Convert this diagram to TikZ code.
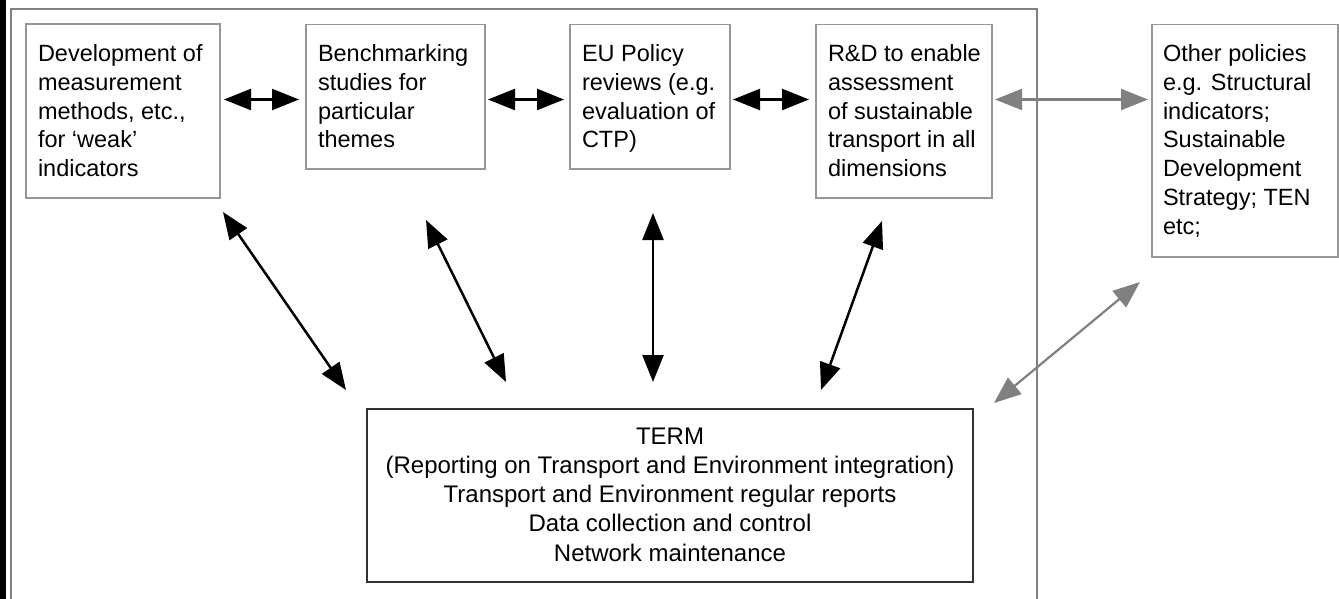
\documentclass[tikz,border=0pt]{standalone}
\usepackage{fontspec}
\setmainfont{Liberation Sans}
\usetikzlibrary{arrows.meta,calc}
\definecolor{boxgray}{RGB}{150,150,150}
\definecolor{framegray}{RGB}{128,128,128}
\definecolor{arrgray}{RGB}{128,128,128}
\definecolor{termgray}{RGB}{50,50,50}
\tikzset{
  box/.style={draw=boxgray, line width=1.3pt, rectangle, inner sep=0pt, outer sep=0pt, anchor=north west},
  termbox/.style={draw=termgray, line width=1.4pt, rectangle, inner sep=0pt, outer sep=0pt, anchor=north west},
  txt/.style={inner sep=0pt, outer sep=0pt, align=left, anchor=north west, font=\fontsize{23.5}{28.9}\selectfont},
  termtxt/.style={inner sep=0pt, outer sep=0pt, align=center, anchor=north, font=\fontsize{24}{29.3}\selectfont},
  blkarrow/.style={line width=2.5pt, black, {Triangle[length=27pt,width=21pt]}-{Triangle[length=27pt,width=21pt]}},
  grayarrow/.style={line width=2.2pt, arrgray, {Triangle[length=27pt,width=21pt]}-{Triangle[length=27pt,width=21pt]}}
}
\begin{document}
\begin{tikzpicture}[x=1pt,y=-1pt]
\useasboundingbox (0,0) rectangle (1339,599);
\fill[white] (0,0) rectangle (1339,599);
% thick left bar and outer frame
\fill[black] (0,0) rectangle (5.5,599);
\draw[framegray, line width=1.3pt] (11,9) rectangle (1037,620);
% boxes
\node[box, minimum width=194pt, minimum height=174pt] (b1) at (26,24) {};
\node[box, minimum width=179pt, minimum height=144.5pt] (b2) at (306,24.5) {};
\node[box, minimum width=160pt, minimum height=144.5pt] (b3) at (570,24.5) {};
\node[box, minimum width=176pt, minimum height=173.5pt] (b4) at (816,24.5) {};
\node[box, minimum width=186pt, minimum height=232.5pt] (b5) at (1152,24.5) {};
\node[termbox, minimum width=606pt, minimum height=173pt] (term) at (367,409) {};
% texts
\node[txt] (t1) at ($(b1.north west)+(12,17)$) {\strut Development of\\measurement\\methods, etc.,\\for ‘weak’\\indicators};
\node[txt] (t2) at ($(b2.north west)+(12,16.5)$) {\strut Benchmarking\\studies for\\particular\\themes};
\node[txt] (t3) at ($(b3.north west)+(12,16.5)$) {\strut EU Policy\\reviews (e.g.\\evaluation of\\CTP)};
\node[txt] (t4) at ($(b4.north west)+(12,16.5)$) {\strut R\&D to enable\\assessment\\of sustainable\\transport in all\\dimensions};
\node[txt] (t5) at ($(b5.north west)+(11,16.5)$) {\strut Other policies\\e.g. Structural\\indicators;\\Sustainable\\Development\\Strategy; TEN\\etc;};
\node[termtxt] (t6) at ($(term.north)+(0,14.5)$) {\strut TERM\\(Reporting on Transport and Environment integration)\\Transport and Environment regular reports\\Data collection and control\\Network maintenance};
% horizontal arrows
\draw[blkarrow] ($(b1.north east)+(4,75.5)$) -- ($(b2.north west)+(-7,75)$);
\draw[blkarrow] ($(b2.north east)+(3,75)$) -- ($(b3.north west)+(-6,75)$);
\draw[blkarrow] ($(b3.north east)+(3,75)$) -- ($(b4.north west)+(-7,75)$);
\draw[grayarrow] ($(b4.north east)+(3,75)$) -- ($(b5.north west)+(-4,75)$);
% arrows to TERM
\draw[blkarrow] ($(b1.south east)+(3,14)$) -- ($(term.north west)+(-21,-19)$);
\draw[blkarrow] ($(b2.south west)+(120,51)$) -- ($(term.north west)+(139,-27)$);
\draw[blkarrow] ($(b3.south west)+(83,44)$) -- ($(term.north west)+(286,-27)$);
\draw[blkarrow] ($(b4.south west)+(66,23)$) -- ($(term.north west)+(454,-19)$);
\draw[grayarrow] ($(b5.south west)+(-12,25)$) -- ($(term.north east)+(21,-6)$);
\end{tikzpicture}
\end{document}
